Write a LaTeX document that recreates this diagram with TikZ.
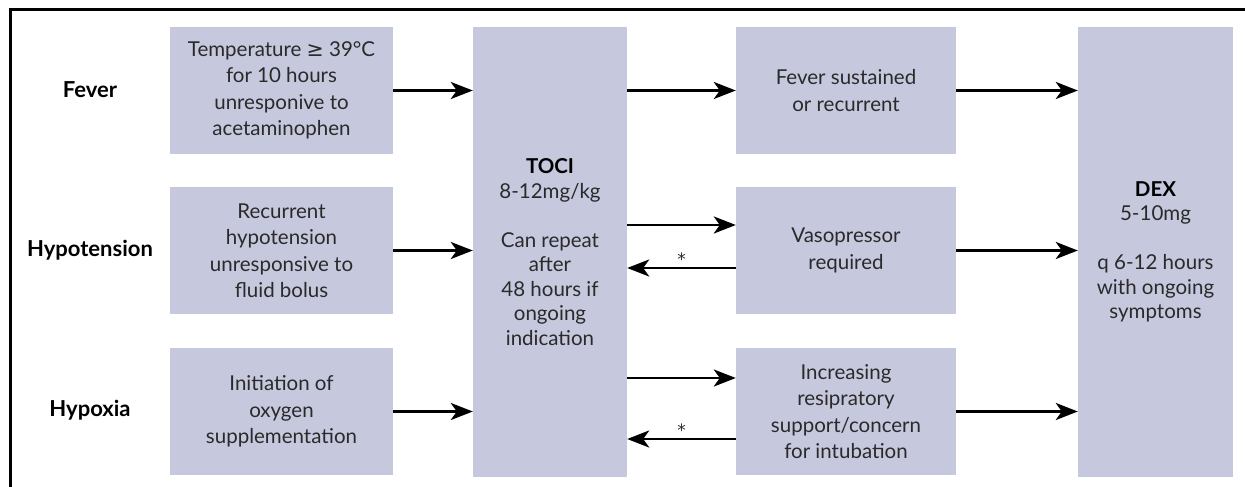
\documentclass[tikz,border=0pt]{standalone}
\usepackage{fontspec}
\setmainfont{Lato}
\newfontfamily\symfont{DejaVu Sans}
\usepackage{xcolor}
\usepackage{tikz}
\usetikzlibrary{arrows.meta}
\definecolor{boxfill}{HTML}{C6C8DE}
\definecolor{textgray}{HTML}{2A2A2A}

\begin{document}
\begin{tikzpicture}[x=1pt, y=-1pt,
  box/.style={fill=boxfill, text=textgray, align=center, inner sep=0pt,
    font=\fontsize{20.5}{26.5}\selectfont},
  tallbox/.style={box, minimum height=449pt, font=\fontsize{20.5}{24.5}\selectfont},
  rowlabel/.style={font=\fontsize{22}{26}\selectfont\bfseries, text=black},
  arr/.style={-{Stealth[length=22pt, width=17pt, inset=6pt]}, line width=2.8pt},
  star/.style={font=\symfont\fontsize{17}{17}\selectfont, text=textgray, inner sep=0pt}]

\useasboundingbox (0,0) rectangle (1245,487);
\draw[line width=3pt] (10,487) -- (10,10) -- (1245,10);

% row labels
\node[rowlabel] (fever) at (90,90) {Fever};
\node[rowlabel] (hypot) at (90,250) {Hypotension};
\node[rowlabel] (hypox) at (90,410) {Hypoxia};

% trigger boxes
\node[box, minimum width=223pt, minimum height=127pt] (temp) at (281.5,90.5)
  {Temperature {\symfont ≥} 39°C\\for 10 hours\\unresponive to\\acetaminophen};
\node[box, minimum width=223pt, minimum height=127pt] (bolus) at (281.5,250.5)
  {Recurrent\\hypotension\\unresponsive to\\fluid bolus};
\node[box, minimum width=223pt, minimum height=127pt] (oxy) at (281.5,411.5)
  {Initiation of\\oxygen\\supplementation};

% tocilizumab
\node[tallbox, minimum width=154pt] (toci) at (550,252)
  {\textbf{\color{black}TOCI}\\8-12mg/kg\\[24.5pt]Can repeat\\after\\48 hours if\\ongoing\\indication};

% escalation boxes
\node[box, minimum width=220pt, minimum height=127pt] (sust) at (846,90.5)
  {Fever sustained\\or recurrent};
\node[box, minimum width=220pt, minimum height=127pt] (vaso) at (846,250.5)
  {Vasopressor\\required};
\node[box, minimum width=220pt, minimum height=127pt] (resp) at (846,411.5)
  {Increasing\\resipratory\\support/concern\\for intubation};

% dexamethasone
\node[tallbox, minimum width=155pt] (dex) at (1155.5,252)
  {\textbf{\color{black}DEX}\\5-10mg\\[24.5pt]q 6-12 hours\\with ongoing\\symptoms};

% arrows into TOCI
\draw[arr] (temp.east) -- (temp.east -| toci.west);
\draw[arr] (bolus.east) -- (bolus.east -| toci.west);
\draw[arr] (oxy.east) -- (oxy.east -| toci.west);

% TOCI to escalation and back
\coordinate (vasoin) at ([yshift=25.5pt]vaso.west);
\coordinate (vasoout) at ([yshift=-17.5pt]vaso.west);
\coordinate (respin) at ([yshift=33.5pt]resp.west);
\coordinate (respout) at ([yshift=-27.5pt]resp.west);
\draw[arr] (sust.west -| toci.east) -- (sust.west);
\draw[arr] (vasoin -| toci.east) -- (vasoin);
\draw[arr] (vasoout) -- node[star, above=1pt] (star1) {*} (vasoout -| toci.east);
\draw[arr] (respin -| toci.east) -- (respin);
\draw[arr] (respout) -- node[star, above=1pt] (star2) {*} (respout -| toci.east);

% escalation to DEX
\draw[arr] (sust.east) -- (sust.east -| dex.west);
\draw[arr] (vaso.east) -- (vaso.east -| dex.west);
\draw[arr] (resp.east) -- (resp.east -| dex.west);
\end{tikzpicture}
\end{document}
